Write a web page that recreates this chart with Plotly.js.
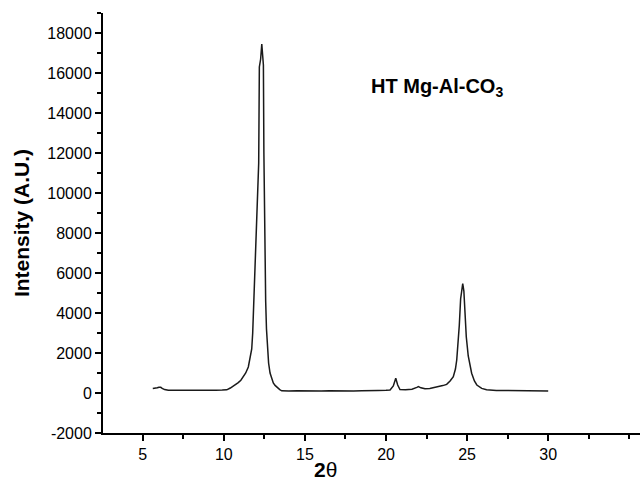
<!DOCTYPE html>
<html>
<head>
<meta charset="utf-8">
<script src="https://cdn.plot.ly/plotly-3.0.1.min.js"></script>
<style>
  html, body { margin: 0; padding: 0; background: #fff; }
  #chart { width: 640px; height: 494px; }
</style>
</head>
<body>
<div id="chart"></div>
<script>
// 2θ (degrees)
var twoTheta = [
  5.62, 5.75, 5.9, 6.0, 6.11, 6.2, 6.35, 6.58, 7.0, 7.5, 8.0, 8.5, 9.0, 9.5, 9.9,
  10.18, 10.4, 10.59, 10.75, 10.89, 11.05, 11.2, 11.35, 11.51, 11.62, 11.72, 11.78,
  11.82, 11.87, 11.92, 11.98, 12.04, 12.1, 12.15, 12.19, 12.27, 12.34, 12.38, 12.44,
  12.47, 12.5, 12.54, 12.58, 12.63, 12.68, 12.76, 12.85, 12.95, 13.05, 13.16, 13.3,
  13.45, 13.57, 13.7, 14.0, 14.5, 15.0, 15.5, 16.0, 16.5, 17.0, 17.5, 18.0, 18.5,
  19.0, 19.5, 20.0, 20.25, 20.45, 20.6, 20.72, 20.86, 21.2, 21.6, 21.9, 22.0, 22.15,
  22.4, 22.7, 23.0, 23.3, 23.5, 23.74, 23.95, 24.15, 24.28, 24.36, 24.45, 24.52,
  24.6, 24.68, 24.73, 24.8, 24.87, 24.95, 25.07, 25.18, 25.28, 25.45, 25.6, 25.9,
  26.2, 26.8, 27.5, 28.0, 28.5, 29.0, 29.5, 30.0
];
// Intensity (A.U.)
var intensity = [
  220, 230, 260, 290, 285, 230, 170, 135, 130, 125, 130, 125, 130, 135, 145,
  160, 250, 350, 430, 520, 640, 800, 1000, 1300, 1700, 2200, 3000,
  4000, 5200, 6400, 8000, 9800, 10600, 11500, 16300, 16700, 17450, 16800, 16400,
  12000, 8700, 6000, 4600, 3200, 2300, 1500, 1000, 700, 500, 380, 260,
  170, 110, 100, 95, 110, 95, 90, 95, 110, 100, 120, 105, 115,
  110, 130, 140, 150, 350, 740, 400, 170, 160, 190, 280, 320, 260,
  210, 230, 270, 320, 370, 430, 600, 820, 1200, 1650, 2600, 3400,
  4700, 5200, 5470, 5100, 3700, 2800, 1850, 1300, 990, 600, 400, 230,
  160, 130, 120, 110, 115, 105, 110, 100
];
var xTickVals = [5, 10, 15, 20, 25, 30];
var yTickVals = [-2000, 0, 2000, 4000, 6000, 8000, 10000, 12000, 14000, 16000, 18000];
var sampleLabel = "HT Mg-Al-CO<sub>3</sub>";
var xTitle = "<b>2</b>θ";
var yTitle = "<b>Intensity (A.U.)</b>";

var font = "Liberation Sans, Arial, sans-serif";

var trace = {
  x: twoTheta,
  y: intensity,
  type: "scatter",
  mode: "lines",
  line: { color: "#1a1a1a", width: 1.5 },
  hoverinfo: "skip"
};

var axisCommon = {
  showline: true,
  linecolor: "#000",
  linewidth: 2,
  ticks: "outside",
  ticklen: 6,
  tickwidth: 2,
  tickcolor: "#000",
  showgrid: false,
  zeroline: false,
  tickfont: { family: font, size: 16, color: "#000" }
};

var layout = {
  width: 640,
  height: 494,
  margin: { l: 103, r: 0, t: 13, b: 61 },
  paper_bgcolor: "#fff",
  plot_bgcolor: "#fff",
  showlegend: false,
  xaxis: Object.assign({}, axisCommon, {
    range: [2.55, 35.66],
    tickmode: "array",
    tickvals: xTickVals,
    ticktext: xTickVals.map(String),
    minor: { dtick: 2.5, tick0: 0, ticks: "outside", ticklen: 4, tickwidth: 2, tickcolor: "#000", showgrid: false }
  }),
  yaxis: Object.assign({}, axisCommon, {
    range: [-2000, 19000],
    tickmode: "array",
    tickvals: yTickVals,
    ticktext: yTickVals.map(String),
    minor: { dtick: 1000, tick0: 0, ticks: "outside", ticklen: 4, tickwidth: 2, tickcolor: "#000", showgrid: false },
    title: { text: yTitle, font: { family: font, size: 21, color: "#000" }, standoff: 12 }
  }),
  annotations: [
    {
      x: 23.15, y: 15300, xref: "x", yref: "y",
      text: "<b>" + sampleLabel + "</b>",
      showarrow: false,
      font: { family: font, size: 20, color: "#000" }
    },
    {
      x: 16.24, y: -0.088, xref: "x", yref: "paper",
      yanchor: "middle",
      text: xTitle,
      showarrow: false,
      font: { family: font, size: 21, color: "#000" }
    }
  ]
};

Plotly.newPlot("chart", [trace], layout, { displayModeBar: false, staticPlot: true });
</script>
</body>
</html>
